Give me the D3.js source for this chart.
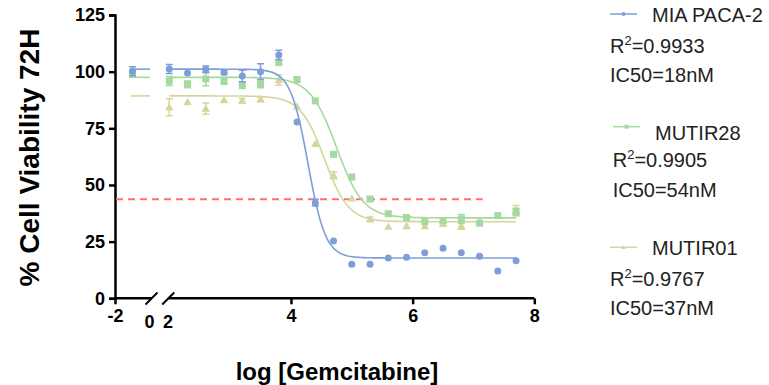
<!DOCTYPE html>
<html>
<head>
<meta charset="utf-8">
<script src="https://cdn.jsdelivr.net/npm/d3@7"></script>
<style>
  body { margin: 0; background: #fff; }
  text { font-family: "Liberation Sans", Arial, sans-serif; }
</style>
</head>
<body>
<script>
// log concentration of each dilution (right segment), control sits in the left segment
var logDose = [2.0, 2.3, 2.6, 2.9, 3.2, 3.5, 3.8, 4.1, 4.4, 4.7, 5.0, 5.3, 5.6, 5.9, 6.2, 6.5, 6.8, 7.1, 7.4, 7.7];
var controlX = -1;

var seriesNames = ['MIA PACA-2', 'MUTIR28', 'MUTIR01'];
var rSquared = ['0.9933', '0.9905', '0.9767'];
var ic50Labels = ['18nM', '54nM', '37nM'];

// mean viability
var miaControl = 100.2;
var miaValues = [101.2, 99.4, 101, 99.7, 98.1, 100, 107.4, 77.8, 42.2, 25.3, 15, 15, 17.8, 18.1, 20.1, 22.1, 20.1, 18.5, 12, 16.6];
var miaErrors = [2, 0, 1.5, 1, 2.5, 3.5, 2, 0, 1.5, 0, 0, 0, 0, 0, 0, 0, 0, 0, 0, 0];

var m28Control = 99;
var m28Values = [95.9, 94.4, 96.8, 95.9, 94.1, 94.4, 104, 96.5, 87.1, 63.5, 53.5, 43.8, 37.3, 35.6, 33.8, 34.2, 35, 33.1, 36.5, 38.2];
var m28Errors = [2, 1.5, 3, 1.5, 1.5, 1.5, 1, 1, 0, 0, 0, 1, 0, 1, 0, 1, 2, 0, 0, 1.5];

var m01Control = null;
var m01Values = [84.3, 86.6, 83.7, 87.5, 87.2, 87.8, 96.3, 84.6, 68.1, 54.3, 44.1, 34.9, 31.6, 31.9, 31.9, 32.8, 32, 34, null, 38.6];
var m01Errors = [3.7, 0, 2.5, 0, 1, 1, 2.3, 0, 0, 1.5, 0, 1, 0, 0, 0, 1, 1.5, 0, 0, 2.3];

// four-parameter fit: top, bottom, logIC50, hill slope
var miaFit = [101.1, 17.8, 4.28, 3.0];
var m28Fit = [97.5, 35.5, 4.75, 2.0];
var m01Fit = [89.3, 33.8, 4.55, 2.2];

var cutoff = 43.7;
var yTicks = [0, 25, 50, 75, 100, 125];

var colors = ['#7c9fd7', '#a4d9a0', '#d7d59d'];

var w = 769, h = 385;
var svg = d3.select('body').append('svg').attr('width', w).attr('height', h);

var y = d3.scaleLinear().domain([0, 125]).range([298.3, 15]);
var xLeft = d3.scaleLinear().domain([-2, 0]).range([115, 150]);
var xRight = d3.scaleLinear().domain([2, 8]).range([169.3, 534.3]);

function fit(p, x) {
  return p[1] + (p[0] - p[1]) / (1 + Math.pow(10, (x - p[2]) * p[3]));
}

function plain(d) { return String(d); }

// axes
var yAxis = svg.append('g').attr('transform', 'translate(115,0)')
  .call(d3.axisLeft(y).tickValues(yTicks).tickFormat(plain).tickSize(6).tickPadding(4));
yAxis.selectAll('text').attr('font-size', '18px').attr('font-weight', 'bold').attr('fill', '#000');

var xAxisR = svg.append('g').attr('transform', 'translate(0,298.3)')
  .call(d3.axisBottom(xRight).tickValues([4, 6, 8]).tickFormat(plain).tickSize(6).tickPadding(5));
var xAxisL = svg.append('g').attr('transform', 'translate(0,298.3)')
  .call(d3.axisBottom(xLeft).tickValues([-2]).tickFormat(plain).tickSize(6).tickPadding(5));
[xAxisR, xAxisL].forEach(function(a) {
  a.selectAll('text').attr('font-size', '18px').attr('font-weight', 'bold').attr('fill', '#000');
});
xAxisR.select('.domain').attr('d', 'M168,0H' + xRight(8));
xAxisL.select('.domain').attr('d', 'M' + xLeft(-2) + ',0H152');
svg.selectAll('.domain, .tick line').attr('stroke', '#000').attr('stroke-width', 2.5);

// axis break marks and their labels
[[151.5, 149.5, 0], [168.2, 168, 2]].forEach(function(b) {
  svg.append('line').attr('x1', b[0] - 6).attr('y1', 304.5).attr('x2', b[0] + 6).attr('y2', 292.5)
    .attr('stroke', '#000').attr('stroke-width', 2);
  svg.append('text').attr('x', b[1]).attr('y', 327.5).attr('text-anchor', 'middle')
    .attr('font-size', '18px').attr('font-weight', 'bold').text(b[2]);
});

// cutoff line
svg.append('line').attr('x1', 116).attr('x2', xRight(7.15))
  .attr('y1', y(cutoff)).attr('y2', y(cutoff))
  .attr('stroke', '#ff6f6f').attr('stroke-width', 2).attr('stroke-dasharray', '7,5');

var fits = [miaFit, m28Fit, m01Fit];
var controls = [miaControl, m28Control, m01Control];
var values = [miaValues, m28Values, m01Values];
var errors = [miaErrors, m28Errors, m01Errors];

function marker(g, kind, cx, cy, col, s) {
  if (kind === 0) {
    g.append('circle').attr('cx', cx).attr('cy', cy).attr('r', s * 0.5).attr('fill', col);
  } else if (kind === 1) {
    g.append('rect').attr('x', cx - s / 2).attr('y', cy - s / 2).attr('width', s).attr('height', s).attr('fill', col);
  } else {
    var t = s * 0.6;
    g.append('path').attr('d', 'M' + cx + ',' + (cy - t) + 'L' + (cx + t) + ',' + (cy + t * 0.75) + 'L' + (cx - t) + ',' + (cy + t * 0.75) + 'Z')
      .attr('fill', col);
  }
}

var line = d3.line().x(function(d) { return d[0]; }).y(function(d) { return y(d[1]); });

// draw series from last to first so blue ends on top
[2, 1, 0].forEach(function(i) {
  var g = svg.append('g');
  var col = colors[i];
  var leftPts = d3.range(-1.1, 0.001, 0.1).map(function(v) { return [xLeft(v), fit(fits[i], v)]; });
  var rightPts = d3.range(2, 7.701, 0.02).map(function(v) { return [xRight(v), fit(fits[i], v)]; });
  g.append('path').attr('d', line(leftPts)).attr('fill', 'none').attr('stroke', col).attr('stroke-width', 1.6);
  g.append('path').attr('d', line(rightPts)).attr('fill', 'none').attr('stroke', col).attr('stroke-width', 1.6);

  var pts = logDose.map(function(d, j) { return { x: xRight(d), v: values[i][j], e: errors[i][j] }; });
  if (controls[i] !== null) pts.unshift({ x: xLeft(controlX), v: controls[i], e: i === 0 ? 2 : 1.5 });
  pts.forEach(function(p) {
    if (p.v === null) return;
    if (p.e > 0) {
      g.append('path')
        .attr('d', 'M' + p.x + ',' + y(p.v - p.e) + 'V' + y(p.v + p.e) +
          'M' + (p.x - 3.5) + ',' + y(p.v + p.e) + 'h7M' + (p.x - 3.5) + ',' + y(p.v - p.e) + 'h7')
        .attr('stroke', col).attr('stroke-width', 1.5).attr('fill', 'none');
    }
    marker(g, i, p.x, y(p.v), col, 7);
  });
});

// axis titles
svg.append('text').attr('x', 337).attr('y', 380).attr('text-anchor', 'middle')
  .attr('font-size', '24px').attr('font-weight', 'bold').text('log [Gemcitabine]');
svg.append('text').attr('transform', 'translate(38.5,157.5) rotate(-90)').attr('text-anchor', 'middle')
  .attr('font-size', '28px').attr('font-weight', 'bold').text('% Cell Viability 72H');

// legend with fit statistics
var legendPos = [
  { lx: 610, ly: 14, tx: 652, ty: 22, sx: 610, ry: 53, iy: 82 },
  { lx: 613, ly: 126.7, tx: 655, ty: 140, sx: 612.7, ry: 167, iy: 197 },
  { lx: 610, ly: 247.3, tx: 652, ty: 255, sx: 610, ry: 286, iy: 315 }
];
seriesNames.forEach(function(name, i) {
  var p = legendPos[i];
  svg.append('line').attr('x1', p.lx).attr('x2', p.lx + 27).attr('y1', p.ly).attr('y2', p.ly)
    .attr('stroke', colors[i]).attr('stroke-width', 1.5);
  marker(svg, i, p.lx + 13.5, p.ly, colors[i], 4);
  svg.append('text').attr('x', p.tx).attr('y', p.ty).attr('font-size', '20px').attr('fill', '#222').text(name);
  var r = svg.append('text').attr('x', p.sx).attr('y', p.ry).attr('font-size', '20px').attr('fill', '#222');
  r.append('tspan').text('R');
  r.append('tspan').attr('dy', -8).attr('font-size', '13px').text('2');
  r.append('tspan').attr('dy', 8).text('=' + rSquared[i]);
  svg.append('text').attr('x', p.sx).attr('y', p.iy).attr('font-size', '20px').attr('fill', '#222')
    .text('IC50=' + ic50Labels[i]);
});
</script>
</body>
</html>
